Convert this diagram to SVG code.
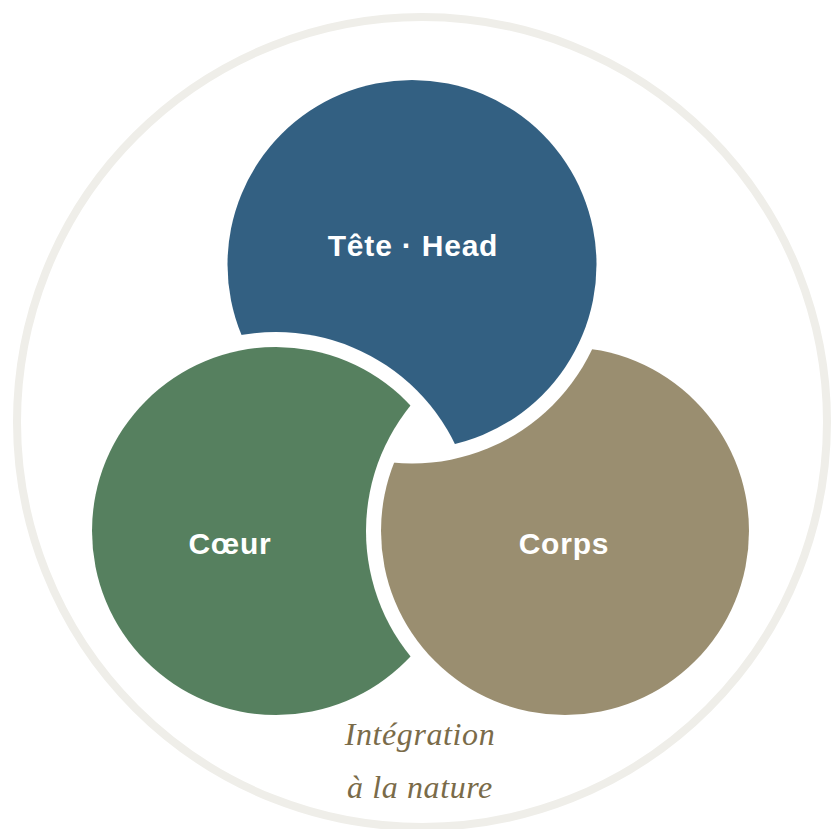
<svg xmlns="http://www.w3.org/2000/svg" width="832" height="829" viewBox="0 0 832 829">
<style>
.lbl{font-family:"Liberation Sans",Arial,sans-serif;font-weight:bold;font-size:30px;fill:#ffffff;text-anchor:middle;letter-spacing:0.8px}
.cap{font-family:"Liberation Serif","Times New Roman",serif;font-style:italic;font-size:32px;fill:#7a6b49;text-anchor:middle;letter-spacing:0.6px}
</style>
<defs>
<mask id="cutByGreen" maskUnits="userSpaceOnUse" x="0" y="0" width="832" height="829">
<rect width="832" height="829" fill="#fff"/>
<circle cx="276" cy="531" r="199" fill="#000"/>
</mask>
<mask id="cutByTan" maskUnits="userSpaceOnUse" x="0" y="0" width="832" height="829">
<rect width="832" height="829" fill="#fff"/>
<circle cx="565" cy="531" r="199" fill="#000"/>
</mask>
<mask id="cutByBlue" maskUnits="userSpaceOnUse" x="0" y="0" width="832" height="829">
<rect width="832" height="829" fill="#fff"/>
<circle cx="412" cy="264.5" r="199" fill="#000"/>
</mask>
</defs>
<rect width="832" height="829" fill="#ffffff"/>
<circle cx="422" cy="422" r="405" fill="none" stroke="#efeee9" stroke-width="8"/>
<g id="head">
<circle cx="412" cy="264.5" r="184.5" fill="#336082" mask="url(#cutByGreen)"/>
<text class="lbl" x="413" y="256">Tête · Head</text>
</g>
<g id="coeur">
<circle cx="276" cy="531" r="184" fill="#56805f" mask="url(#cutByTan)"/>
<text class="lbl" x="230" y="554">Cœur</text>
</g>
<g id="corps">
<circle cx="565" cy="531" r="184" fill="#9a8e70" mask="url(#cutByBlue)"/>
<text class="lbl" x="564" y="554">Corps</text>
</g>
<g id="caption">
<text class="cap" x="420" y="745">Intégration</text>
<text class="cap" x="420" y="798">à la nature</text>
</g>
<g id="connectors"/>
</svg>
